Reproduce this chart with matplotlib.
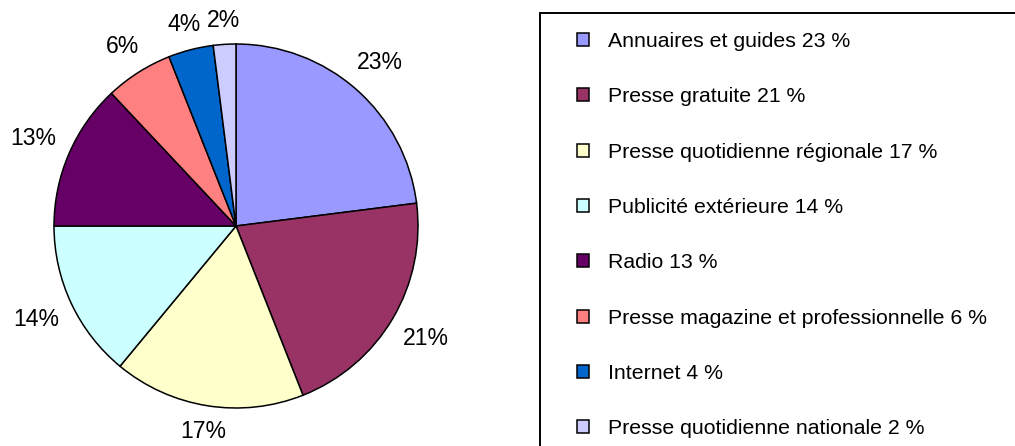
import matplotlib
matplotlib.use("Agg")
import numpy as np
import matplotlib.pyplot as plt
from matplotlib.patches import Rectangle

categories = ["Annuaires et guides", "Presse gratuite", "Presse quotidienne régionale",
              "Publicité extérieure", "Radio", "Presse magazine et professionnelle",
              "Internet", "Presse quotidienne nationale"]
values = [23, 21, 17, 14, 13, 6, 4, 2]
colors = ["#9999FF", "#993366", "#FFFFCC", "#CCFFFF", "#660066", "#FF8080", "#0066CC", "#CCCCFF"]

W, H = 1015, 446
fig = plt.figure(figsize=(W / 100, H / 100), dpi=100)
plt.rcParams['font.family'] = ['Liberation Sans', 'DejaVu Sans']

cx, cy, r = 236, 226, 182
ax = fig.add_axes([(cx - r) / W, (H - cy - r) / H, 2 * r / W, 2 * r / H])
wedges, texts, autotexts = ax.pie(
    values, colors=colors, startangle=90, counterclock=False,
    autopct=lambda p: f"{p:.0f}%", pctdistance=1.2,
    wedgeprops=dict(edgecolor="black", linewidth=1.1),
    textprops=dict(fontsize=16.6, color="black"))
ax.set_xlim(-1, 1)
ax.set_ylim(-1, 1)
ax.set_aspect("equal")
ax.axis("off")

# place labels outside, Excel-like: gap from edge plus text half-extent along direction
renderer = fig.canvas.get_renderer()
gap = 14
cap_h = 17
for w, t in zip(wedges, autotexts):
    ang = np.deg2rad((w.theta1 + w.theta2) / 2)
    c, s = np.cos(ang), np.sin(ang)
    bb = t.get_window_extent(renderer)
    d = r + gap + abs(c) * bb.width / 2 + abs(s) * cap_h / 2
    t.set_position((c * d / r, s * d / r))
    t.set_ha("center")
    t.set_va("center")

# legend frame
fig.patches.append(Rectangle((540 / W, -0.05), 0.6, 1 - 13 / H + 0.05,
                             transform=fig.transFigure, fill=False,
                             edgecolor="black", linewidth=1.4))

fs = 15.3
fpx = fs * 100 / 72
labels = [f"{c} {v} %" for c, v in zip(categories, values)]
leg = fig.legend(wedges, labels, loc="upper left",
                 bbox_to_anchor=(577 / W, 1 - 32 / H),
                 frameon=False, fontsize=fs, borderaxespad=0, borderpad=0,
                 handlelength=12 / fpx, handleheight=12 / fpx,
                 handletextpad=19 / fpx, labelspacing=1.71)

fig.savefig("out.png", dpi=100)
